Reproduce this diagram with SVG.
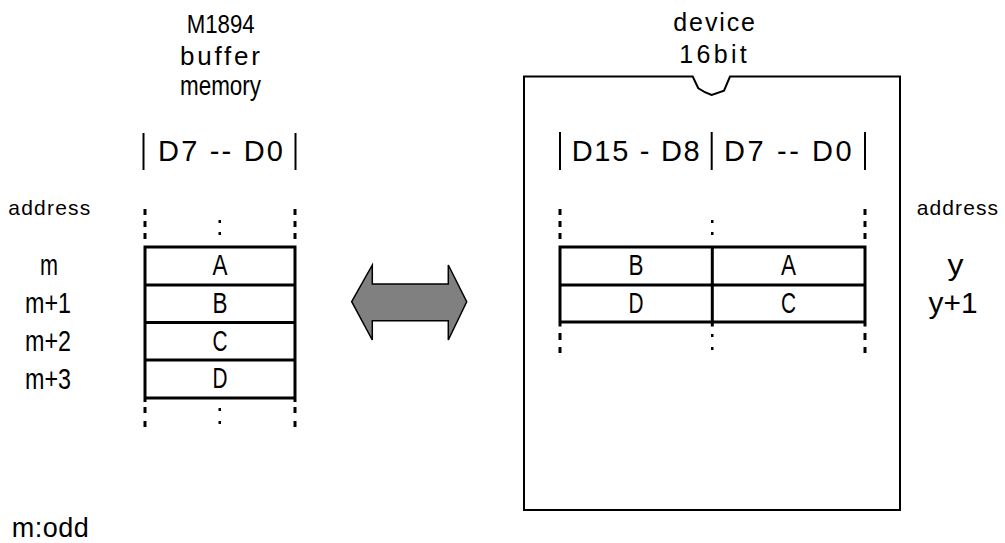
<svg xmlns="http://www.w3.org/2000/svg" width="1005" height="543" viewBox="0 0 1005 543">
<style>
.t{font-family:"Liberation Sans",Arial,sans-serif;fill:#000}
.ln{stroke:#000;stroke-width:3;fill:none}
.bar{stroke:#000;stroke-width:2;fill:none}
.dash{stroke:#000;stroke-width:3;fill:none}
.dot{fill:#000}
</style>
<rect width="1005" height="543" fill="#fff"/>
<g id="buffer-memory">
  <text class="t" x="186.7" y="33" font-size="25" textLength="68" lengthAdjust="spacingAndGlyphs">M1894</text>
  <text class="t" x="180" y="65" font-size="26" textLength="80" lengthAdjust="spacing">buffer</text>
  <text class="t" x="180" y="95" font-size="27" textLength="81" lengthAdjust="spacingAndGlyphs">memory</text>
  <line class="bar" x1="143.5" y1="133" x2="143.5" y2="170"/>
  <line class="bar" x1="295.5" y1="133" x2="295.5" y2="170"/>
  <text class="t" x="158" y="161" font-size="29" textLength="125" lengthAdjust="spacing">D7 -- D0</text>
  <text class="t" x="8.3" y="215" font-size="21" textLength="82" lengthAdjust="spacing">address</text>
  <line class="dash" x1="145" y1="209" x2="145" y2="239" stroke-dasharray="6 6"/>
  <line class="dash" x1="295" y1="209" x2="295" y2="239" stroke-dasharray="6 6"/>
  <rect class="dot" x="218.5" y="220" width="2.5" height="3"/>
  <rect class="dot" x="218.5" y="232" width="2.5" height="3"/>
  <path class="ln" d="M145,247 H295 M145,285 H295 M145,322.5 H295 M145,360 H295 M145,398 H295 M145,245.5 V402 M295,245.5 V402"/>
  <text class="t" x="212.5" y="275" font-size="30" textLength="15" lengthAdjust="spacingAndGlyphs">A</text>
  <text class="t" x="212.5" y="313" font-size="30" textLength="15" lengthAdjust="spacingAndGlyphs">B</text>
  <text class="t" x="212.5" y="350.5" font-size="30" textLength="15" lengthAdjust="spacingAndGlyphs">C</text>
  <text class="t" x="212.5" y="388" font-size="30" textLength="15" lengthAdjust="spacingAndGlyphs">D</text>
  <text class="t" x="40" y="275" font-size="30" textLength="18" lengthAdjust="spacingAndGlyphs">m</text>
  <text class="t" x="25" y="313" font-size="30" textLength="46" lengthAdjust="spacingAndGlyphs">m+1</text>
  <text class="t" x="25" y="351" font-size="30" textLength="46" lengthAdjust="spacingAndGlyphs">m+2</text>
  <text class="t" x="25" y="389" font-size="30" textLength="46" lengthAdjust="spacingAndGlyphs">m+3</text>
  <line class="dash" x1="145" y1="407" x2="145" y2="427" stroke-dasharray="6 8"/>
  <line class="dash" x1="295" y1="407" x2="295" y2="427" stroke-dasharray="6 8"/>
  <rect class="dot" x="218.5" y="408" width="2.5" height="3"/>
  <rect class="dot" x="218.5" y="421" width="2.5" height="3"/>
  <text class="t" x="11.7" y="537" font-size="27" textLength="77" lengthAdjust="spacing">m:odd</text>
</g>
<g id="device">
  <text class="t" x="673.3" y="31" font-size="25" textLength="81.7" lengthAdjust="spacing">device</text>
  <text class="t" x="679.3" y="63" font-size="25" textLength="67.4" lengthAdjust="spacing">16bit</text>
  <path d="M524,76.5 H692.7 L698.3,88.3 Q705,93 711.7,95 L724,90.7 L730,76.5 H900 V510 H524 Z" fill="none" stroke="#000" stroke-width="2"/>
  <line class="bar" x1="560" y1="132" x2="560" y2="170"/>
  <line class="bar" x1="711.7" y1="132" x2="711.7" y2="170"/>
  <line class="bar" x1="865" y1="132" x2="865" y2="170"/>
  <text class="t" x="571.7" y="161" font-size="29" textLength="128" lengthAdjust="spacing">D15 - D8</text>
  <text class="t" x="724" y="161" font-size="29" textLength="127.7" lengthAdjust="spacing">D7 -- D0</text>
  <line class="dash" x1="560" y1="209" x2="560" y2="239" stroke-dasharray="6 6"/>
  <line class="dash" x1="865" y1="209" x2="865" y2="239" stroke-dasharray="6 6"/>
  <rect class="dot" x="711" y="220" width="2.5" height="3"/>
  <rect class="dot" x="711" y="232" width="2.5" height="3"/>
  <path class="ln" d="M560,247 H865 M560,285 H865 M560,322 H865 M560,245.5 V326.5 M712.3,247 V326.5 M865,245.5 V326.5"/>
  <text class="t" x="628.5" y="275" font-size="30" textLength="15" lengthAdjust="spacingAndGlyphs">B</text>
  <text class="t" x="781" y="275" font-size="30" textLength="15" lengthAdjust="spacingAndGlyphs">A</text>
  <text class="t" x="628.5" y="313" font-size="30" textLength="15" lengthAdjust="spacingAndGlyphs">D</text>
  <text class="t" x="781" y="313" font-size="30" textLength="15" lengthAdjust="spacingAndGlyphs">C</text>
  <line class="dash" x1="560" y1="333" x2="560" y2="353" stroke-dasharray="7 7"/>
  <line class="dash" x1="865" y1="333" x2="865" y2="353" stroke-dasharray="7 7"/>
  <rect class="dot" x="711" y="334" width="2.5" height="3"/>
  <rect class="dot" x="711" y="347" width="2.5" height="3"/>
  <text class="t" x="916.7" y="215" font-size="21" textLength="81.3" lengthAdjust="spacing">address</text>
  <text class="t" x="947.5" y="275" font-size="30" textLength="16" lengthAdjust="spacingAndGlyphs">y</text>
  <text class="t" x="928.5" y="313" font-size="30" textLength="49" lengthAdjust="spacingAndGlyphs">y+1</text>
</g>
<g id="connectors">
  <path d="M351.7,301.7 L372.3,265 V284 H448.3 V265 L466.7,301.7 L448.3,340 V320.7 H372.3 V340 Z" fill="#808080" stroke="#000" stroke-width="1.5" stroke-linejoin="miter"/>
</g>
</svg>
